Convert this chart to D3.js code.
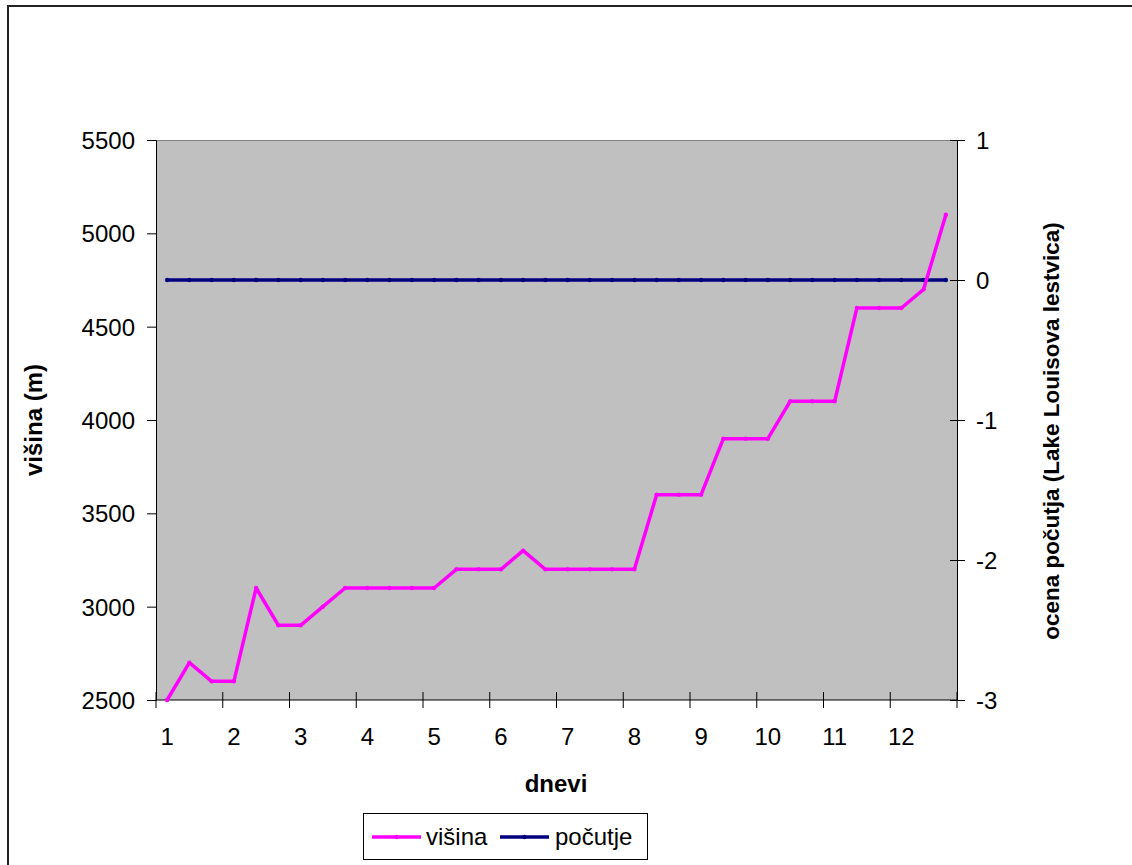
<!DOCTYPE html>
<html>
<head>
<meta charset="utf-8">
<script src="https://cdn.jsdelivr.net/npm/d3@7"></script>
<style>
  html, body { margin: 0; padding: 0; background: #fff; }
  svg { display: block; }
  text { font-family: "Liberation Sans", Arial, sans-serif; fill: #000; }
</style>
</head>
<body>
<svg id="chart" width="1132" height="865"></svg>
<script>
// ---- data ----
const dayLabels = ["1","2","3","4","5","6","7","8","9","10","11","12"];
const pointsPerDay = 3;
const visina = [2500,2700,2600,2600,3100,2900,2900,3000,3100,3100,3100,3100,
                3100,3200,3200,3200,3300,3200,3200,3200,3200,3200,3600,3600,
                3600,3900,3900,3900,4100,4100,4100,4600,4600,4600,4700,5100];
const pocutje = [0,0,0,0,0,0,0,0,0,0,0,0,
                 0,0,0,0,0,0,0,0,0,0,0,0,
                 0,0,0,0,0,0,0,0,0,0,0,0];
const leftTicks = [2500,3000,3500,4000,4500,5000,5500];
const rightTicks = [-3,-2,-1,0,1];
const seriesNames = ["višina","počutje"];
const seriesColors = ["#FF00FF","#000080"];

// ---- layout ----
const svg = d3.select("#chart");
const L = 156, R = 957, T = 140, B = 700;

// outer chart border
svg.append("rect").attr("x", 8).attr("y", 6).attr("width", 1140).attr("height", 880)
  .attr("fill", "#fff").attr("stroke", "#222").attr("stroke-width", 2);

const idx = d3.range(visina.length);
const x = d3.scaleBand().domain(idx).range([L, R]).padding(0);
const cx = i => x(i) + x.bandwidth() / 2;
const yL = d3.scaleLinear().domain([2500, 5500]).range([B, T]);
const yR = d3.scaleLinear().domain([-3, 1]).range([B, T]);

// plot area
svg.append("rect").attr("x", L).attr("y", T).attr("width", R - L).attr("height", B - T)
  .attr("fill", "#C0C0C0");
svg.append("line").attr("x1", L).attr("x2", R).attr("y1", T + 0.5).attr("y2", T + 0.5)
  .attr("stroke", "#808080").attr("stroke-width", 1);

// left axis
const axL = d3.axisLeft(yL).tickValues(leftTicks).tickSize(9).tickPadding(12).tickFormat(d => String(d));
const gL = svg.append("g").attr("transform", `translate(${L},0)`).call(axL);
gL.selectAll("text").style("font-size", "24px").attr("dy", "0.35em");

// right axis (ticks cross)
const axR = d3.axisRight(yR).tickValues(rightTicks).tickSize(8).tickPadding(11).tickFormat(d => String(d));
const gR = svg.append("g").attr("transform", `translate(${R},0)`).call(axR);
gR.selectAll(".tick line").attr("x1", -7);
gR.selectAll("text").style("font-size", "24px").attr("dy", "0.35em");

// bottom axis: ticks at every 3rd category boundary, labels at day-start categories
const gB = svg.append("g").attr("transform", `translate(0,${B})`);
gB.append("line").attr("x1", L).attr("x2", R).attr("stroke", "#000");
const tickPos = d3.range(0, visina.length + 1, pointsPerDay).map(i => i < visina.length ? x(i) : R);
gB.selectAll("line.tk").data(tickPos).join("line").attr("class", "tk")
  .attr("x1", d => d).attr("x2", d => d).attr("y1", -8).attr("y2", 8).attr("stroke", "#000");
gB.selectAll("text.lbl").data(dayLabels).join("text").attr("class", "lbl")
  .attr("x", (d, k) => cx(k * pointsPerDay)).attr("y", 45)
  .attr("text-anchor", "middle").style("font-size", "24px").text(d => d);

svg.selectAll(".domain").attr("stroke", "#000");
svg.selectAll(".tick line").attr("stroke", "#000");

// lines
const lineL = d3.line().x((d, i) => cx(i)).y(d => yL(d));
const lineR = d3.line().x((d, i) => cx(i)).y(d => yR(d));
svg.append("path").datum(pocutje).attr("d", lineR).attr("fill", "none")
  .attr("stroke", seriesColors[1]).attr("stroke-width", 3.5).attr("stroke-linejoin", "round");
svg.selectAll("circle.p").data(pocutje).join("circle").attr("class", "p")
  .attr("cx", (d, i) => cx(i)).attr("cy", d => yR(d)).attr("r", 2.2).attr("fill", seriesColors[1]);
svg.append("path").datum(visina).attr("d", lineL).attr("fill", "none")
  .attr("stroke", seriesColors[0]).attr("stroke-width", 3.5).attr("stroke-linejoin", "round");
svg.selectAll("circle.v").data(visina).join("circle").attr("class", "v")
  .attr("cx", (d, i) => cx(i)).attr("cy", d => yL(d)).attr("r", 2.2).attr("fill", seriesColors[0]);

// axis titles
svg.append("text").attr("transform", "translate(42,420) rotate(-90)")
  .attr("text-anchor", "middle").style("font-size", "24px").style("font-weight", "bold").text("višina (m)");
svg.append("text").attr("transform", "translate(1059,431) rotate(-90)")
  .attr("text-anchor", "middle").style("font-size", "22.5px").style("font-weight", "bold")
  .text("ocena počutja (Lake Louisova lestvica)");
svg.append("text").attr("x", 556).attr("y", 792).attr("text-anchor", "middle")
  .style("font-size", "24px").style("font-weight", "bold").text("dnevi");

// legend
const lg = svg.append("g");
lg.append("rect").attr("x", 363.5).attr("y", 813.5).attr("width", 284).attr("height", 46)
  .attr("fill", "#fff").attr("stroke", "#000").attr("stroke-width", 1);
const legX = [[372, 421, 426], [500, 549, 555]];
seriesNames.forEach((n, k) => {
  lg.append("line").attr("x1", legX[k][0]).attr("x2", legX[k][1]).attr("y1", 837).attr("y2", 837)
    .attr("stroke", seriesColors[k]).attr("stroke-width", 3.5);
  lg.append("circle").attr("cx", (legX[k][0] + legX[k][1]) / 2).attr("cy", 837).attr("r", 2.2)
    .attr("fill", seriesColors[k]);
  lg.append("text").attr("x", legX[k][2]).attr("y", 845).style("font-size", "24px").text(n);
});
</script>
</body>
</html>
